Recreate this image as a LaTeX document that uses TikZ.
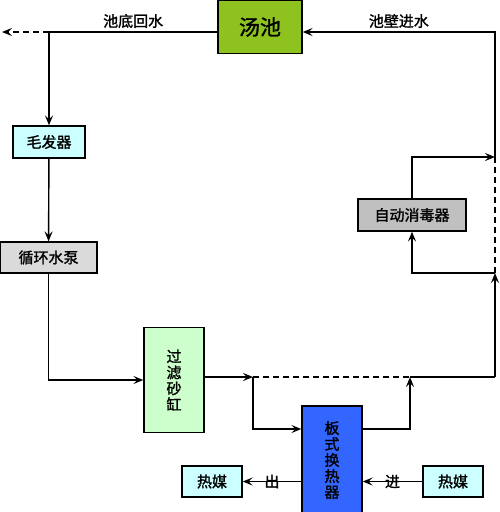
\documentclass[tikz,border=0pt]{standalone}
\usepackage{fontspec}
\setmainfont{Noto Sans CJK SC}[FakeBold=1.5]
\usepackage{tikz}
\usetikzlibrary{arrows.meta, positioning}
\definecolor{poolgreen}{HTML}{8DC21F}
\definecolor{lightcyan}{HTML}{CCFFFF}
\definecolor{pumpgray}{HTML}{DADADA}
\definecolor{disgray}{HTML}{C0C0C0}
\definecolor{filtgreen}{HTML}{CCFFCC}
\definecolor{plateblue}{HTML}{3366FF}
\tikzstyle{box} = [draw, line width=1.3pt, inner sep=0pt, font=\fontsize{15}{16}\selectfont]
\tikzstyle{pipe} = [line width=1.4pt, >={Stealth[length=10pt, width=8pt, inset=4pt]}, dash pattern=on 6pt off 4pt, solid]
\tikzstyle{lbl} = [font=\fontsize{15}{16}\selectfont]

\begin{document}
\begin{tikzpicture}[x=1pt, y=-1pt]
    \useasboundingbox (0,0) rectangle (500,512);
    % equipment
    \node[box, fill=poolgreen, minimum width=84, minimum height=53, font=\fontsize{21}{22}\selectfont] (pool) at (260,27) {汤池};
    \node[box, fill=lightcyan, minimum width=72, minimum height=32] (hair) at (49,142) {毛发器};
    \node[box, fill=pumpgray, minimum width=97, minimum height=31] (pump) at (48.5,257.5) {循环水泵};
    \node[box, fill=filtgreen, minimum width=60, minimum height=105, align=center] (filter) at (174,380) {过\\滤\\砂\\缸};
    \node[box, fill=plateblue, minimum width=60, minimum height=108, align=center] (plate) at (332,460) {板\\式\\换\\热\\器};
    \node[box, fill=disgray, minimum width=108, minimum height=32] (disinf) at (412,215) {自动消毒器};
    \node[box, fill=lightcyan, minimum width=60, minimum height=31] (mediaout) at (212,481.5) {热媒};
    \node[box, fill=lightcyan, minimum width=60, minimum height=31] (mediain) at (453,481.5) {热媒};
    % pipe corners
    \coordinate (ret) at (49,32);
    \coordinate (drain) at (2,32);
    \coordinate (topR) at (495,32);
    \coordinate (split) at (253,377);
    \coordinate (join) at (410,377);
    \coordinate (cornR) at (495,377);
    \coordinate (byB) at (495,273);
    \coordinate (byT) at (495,157);
    % return line
    \draw[pipe] (pool.west |- ret) -- node[above, lbl] {池底回水} (ret);
    \draw[pipe, ->, dash pattern=on 6pt off 4pt] (ret) -- (drain);
    \draw[pipe, ->] (ret) -- (hair.north);
    \draw[pipe, ->] (hair) -- (pump);
    \draw[pipe, ->] (pump.south) |- (filter.west);
    \draw[pipe, ->] (filter.east |- split) -- (split);
    \draw[pipe, dash pattern=on 6pt off 4pt] (split) -- (join);
    \draw[pipe] (join) -- (cornR);
    \draw[pipe, ->] (cornR) -- (byB);
    % heat exchanger
    \draw[pipe, ->] (split) |- ([yshift=31pt]plate.west);
    \draw[pipe, ->] ([yshift=31pt]plate.east) -| (join);
    \draw[pipe, ->] (plate.west |- mediaout) -- node[lbl] {出} (mediaout);
    \draw[pipe, ->] (mediain) -- node[lbl] {进} (plate.east |- mediain);
    % disinfection
    \draw[pipe, ->] (byB) -| (disinf.south);
    \draw[pipe, ->] (disinf.north) |- (byT);
    \draw[pipe, dash pattern=on 6pt off 4pt] (byB) -- (byT);
    \draw[pipe, ->] (byT) -- (topR) -- node[above, lbl] {池壁进水} (pool.east |- topR);
\end{tikzpicture}
\end{document}
